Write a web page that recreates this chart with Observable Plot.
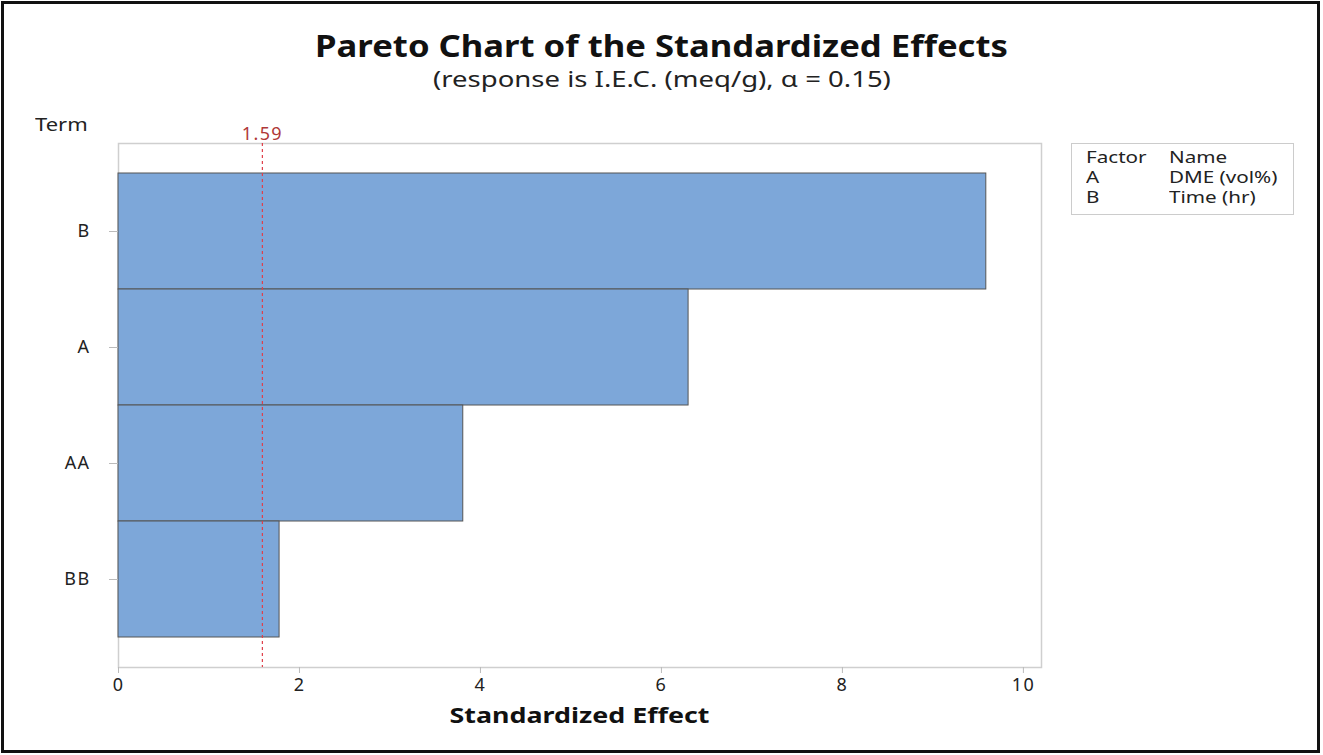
<!DOCTYPE html>
<html><head><meta charset="utf-8">
<script src="https://cdn.jsdelivr.net/npm/d3@7"></script>
<script src="https://cdn.jsdelivr.net/npm/@observablehq/plot@0.6"></script>
<style>
body{margin:0;background:#fff;font-family:"Noto Sans",sans-serif;color:#222;}
#wrap{position:relative;width:1323px;height:755px;overflow:hidden;}
#border{position:absolute;left:1px;top:1px;width:1313px;height:746px;border:3px solid #111;pointer-events:none;}
.t{position:absolute;white-space:nowrap;}
#title{left:0;width:1323px;text-align:center;top:25px;font-size:30px;font-weight:bold;color:#111;transform:scaleX(1.155);transform-origin:661.5px 0;}
#sub{left:0;width:1323px;text-align:center;top:65px;font-size:21px;color:#222;transform:scaleX(1.31);transform-origin:660px 0;}
#term{left:35px;top:112px;font-size:18px;transform:scaleX(1.22);transform-origin:0 0;}
#xlab{left:118px;width:923px;text-align:center;top:699px;font-size:22px;font-weight:bold;color:#111;transform:scaleX(1.22);transform-origin:461.5px 0;}
#legend{position:absolute;left:1071px;top:143px;width:221px;height:70px;border:1px solid #ccc;font-size:15.5px;line-height:20px;}
#legend table{border-collapse:collapse;margin-left:14px;margin-top:3px;}
#legend td{padding:0;height:20px;}
#legend td:first-child{width:83px;}
#legend span{display:inline-block;transform:scaleX(1.33);transform-origin:0 0;}
#chart{position:absolute;left:0;top:0;}
</style></head>
<body>
<div id="wrap">
  <div id="chart"></div>
  <div class="t" id="title">Pareto Chart of the Standardized Effects</div>
  <div class="t" id="sub">(response is I.E.C. (meq/g), α = 0.15)</div>
  <div class="t" id="term">Term</div>
  <div class="t" id="xlab">Standardized Effect</div>
  <div id="legend"></div>
  <div id="border"></div>
</div>
<script>
const terms = ["B", "A", "AA", "BB"];
const effects = [9.59, 6.30, 3.81, 1.78];
const refValue = 1.59;
const xTicks = [0, 2, 4, 6, 8, 10];
const legendFactors = ["A", "B"];
const legendNames = ["DME (vol%)", "Time (hr)"];

const data = terms.map((t, i) => ({term: t, effect: effects[i]}));

const chart = Plot.plot({
  width: 1323,
  height: 755,
  marginLeft: 118,
  marginRight: 282,
  marginTop: 143,
  marginBottom: 88,
  style: {fontFamily: "'Noto Sans', sans-serif", fontSize: "18px", background: "transparent", color: "#222", letterSpacing: "1.4px"},
  x: {domain: [0, 10.2], ticks: xTicks},
  y: {domain: terms, paddingInner: 0, paddingOuter: 0.2586},
  marks: [
    Plot.frame({stroke: "#cfcfcf", strokeWidth: 1.5}),
    Plot.barX(data, {y: "term", x: "effect", fill: "#7da7d9", stroke: "#555", strokeWidth: 1, inset: 0}),
    Plot.ruleX([refValue], {stroke: "#e0404a", strokeDasharray: "3,3", strokeWidth: 1.2}),
    Plot.text([refValue], {x: d => d, frameAnchor: "top", lineAnchor: "bottom", dy: -4, text: d => d.toFixed(2), fill: "#b03838", fontSize: 18}),
    Plot.axisX({ticks: xTicks, tickSize: 6, tickPadding: 5, stroke: "#bbb", fill: "#222", fontSize: 18, label: null}),
    Plot.axisY({tickSize: 9, tickPadding: 19, stroke: "#bbb", fill: "#222", fontSize: 18, label: null})
  ]
});
document.getElementById("chart").appendChild(chart);

const lg = document.getElementById("legend");
let html = "<table><tr><td><span>Factor</span></td><td><span>Name</span></td></tr>";
legendFactors.forEach((f, i) => { html += `<tr><td><span>${f}</span></td><td><span>${legendNames[i]}</span></td></tr>`; });
html += "</table>";
lg.innerHTML = html;
</script>
</body></html>
